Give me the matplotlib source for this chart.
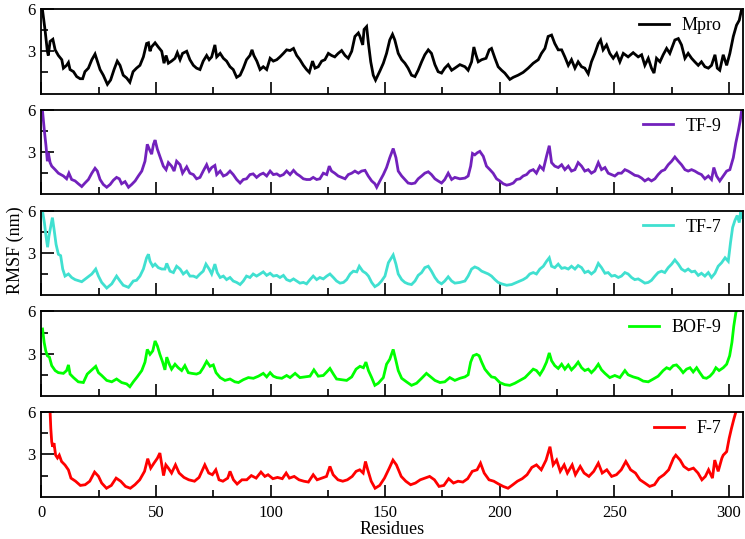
import matplotlib
matplotlib.use("Agg")
import matplotlib.pyplot as plt
from matplotlib.ticker import MultipleLocator, FixedLocator

plt.rcParams['font.family'] = ['Liberation Serif', 'DejaVu Serif']

# ---------------- data ----------------
mpro_res = [0.5,1.6,2.6,3.0,3.8,5.0,6.0,7.4,8.9,9.6,11.0,11.8,12.5,14.0,15.4,16.9,18.0,19.0,20.5,22.0,
            23.4,24.0,25.6,27.0,28.8,30.2,31.7,33.1,34.3,35.7,37.2,38.6,40.0,41.5,43.0,44.5,45.9,46.7,47.4,48.0,
            49.6,51.0,52.5,53.5,54.4,55.4,56.8,58.3,59.3,60.5,61.6,63.4,64.8,66.3,67.7,69.2,70.6,72.1,73.2,74.3,
            75.7,76.5,78.0,79.4,80.8,82.3,83.7,85.2,86.7,88.1,89.5,91.0,91.9,92.7,94.0,95.4,96.8,98.3,99.8,101.2,
            102.7,104.1,105.6,107.0,108.5,110.0,111.4,112.8,114.3,115.7,116.9,118.3,119.4,120.8,122.3,123.7,125.2,126.6,128.0,129.5,
            131.0,132.5,133.9,135.4,136.8,138.3,139.0,140.2,140.8,141.9,142.7,143.7,144.8,145.8,147.7,149.2,150.6,152.0,153.2,154.2,
            155.7,157.2,158.6,160.0,161.5,163.0,164.4,165.9,167.3,168.8,170.2,171.7,173.1,174.6,176.0,177.5,179.0,180.4,182.6,184.8,
            186.2,187.7,188.7,189.6,190.6,192.1,194.0,195.4,196.4,197.9,199.3,200.8,202.2,204.4,205.9,208.0,210.2,212.4,214.6,216.8,
            218.2,219.7,221.1,222.6,224.0,225.5,227.0,228.4,229.9,231.3,232.8,234.2,235.7,237.1,238.6,240.0,241.5,243.0,244.0,245.1,
            246.6,248.0,249.5,251.0,252.4,253.9,256.0,258.2,260.4,261.9,263.3,264.8,266.2,267.3,268.4,269.9,271.3,272.8,274.2,276.4,
            277.9,279.3,280.8,282.2,283.7,285.1,286.6,288.0,289.5,291.0,292.4,293.9,294.9,296.0,297.5,299.0,300.4,301.9,303.3,304.5,305.5]
mpro_rmsf = [5.9,4.5,3.0,2.7,3.7,3.85,3.1,2.7,2.4,1.8,2.0,2.2,1.7,1.55,1.2,1.05,1.05,1.55,1.8,2.4,
             2.8,2.5,1.7,1.3,0.65,0.96,1.7,2.3,2.0,1.3,1.1,0.8,1.55,1.8,2.0,2.6,3.55,3.6,3.0,3.3,
             3.6,3.3,3.0,2.15,2.7,2.15,2.3,2.5,2.9,2.4,2.85,3.0,2.4,2.0,1.8,1.7,2.3,2.7,2.4,2.6,
             3.45,2.6,2.85,2.5,2.3,1.9,1.7,1.15,1.3,1.8,2.4,2.7,3.1,2.7,2.3,1.7,1.9,1.7,2.5,2.3,
             2.4,2.6,2.85,3.1,3.05,3.2,2.7,2.4,2.0,1.7,1.5,2.3,1.8,1.9,2.3,2.4,2.85,2.7,2.6,2.85,
             3.05,2.7,2.5,3.0,4.05,4.3,4.05,3.45,4.55,4.75,3.55,2.25,1.3,0.95,1.6,2.15,2.85,3.8,4.2,3.8,
             2.85,2.4,2.15,1.8,1.3,1.2,1.65,2.25,2.75,3.1,2.85,2.05,1.55,1.45,1.8,2.05,1.65,1.8,2.05,1.9,
             1.65,2.25,3.3,2.75,2.25,2.4,2.5,3.1,3.2,2.5,1.9,1.65,1.45,1.0,1.15,1.3,1.5,1.8,2.15,2.4,
             2.85,3.2,4.05,4.15,3.55,3.1,3.1,2.6,2.0,2.4,1.8,2.25,1.9,1.8,1.4,2.25,2.85,3.55,3.8,3.1,
             3.45,2.85,2.5,2.85,2.25,2.85,2.6,2.9,2.6,2.75,2.0,2.5,1.8,1.45,2.5,2.25,2.75,3.2,2.85,3.8,
             3.9,3.45,2.5,2.85,2.5,2.25,2.0,2.25,1.9,1.8,2.0,2.75,1.8,1.65,2.75,2.0,2.85,4.05,4.85,5.2,5.95]

tf9_res = [0.5,1.3,2.0,2.6,3.0,3.8,4.5,6.0,7.4,9.6,11.0,12.0,13.2,14.7,16.1,17.6,19.0,20.5,22.0,23.4,
           24.4,25.6,27.0,28.5,30.0,31.4,32.8,34.0,35.0,36.5,38.0,39.4,40.9,42.3,43.8,45.2,46.2,47.1,48.1,48.9,
           49.6,50.6,51.7,53.2,54.4,55.4,56.8,57.9,59.0,60.5,61.6,63.4,64.8,66.3,67.7,69.2,70.6,72.1,73.2,74.3,
           75.7,76.5,78.0,79.4,80.8,82.3,83.7,85.2,86.7,88.1,89.5,91.0,92.4,93.9,95.4,96.8,98.3,99.8,101.2,102.7,
           104.1,105.6,107.0,108.5,110.0,111.4,112.8,114.3,115.7,117.2,118.6,120.1,121.5,123.0,124.5,125.6,126.6,128.0,129.5,131.0,
           132.5,133.9,135.4,136.8,138.3,139.7,141.2,142.6,144.1,145.5,146.3,147.7,149.2,150.6,152.0,153.5,154.7,155.7,157.2,158.6,
           160.0,161.5,163.0,164.4,165.9,167.3,168.8,170.2,171.7,173.1,174.6,176.0,177.5,179.0,180.4,182.6,184.8,186.2,187.3,188.1,
           189.1,190.2,191.3,192.8,194.2,195.7,197.1,198.6,200.0,201.5,203.0,204.4,205.9,207.3,208.8,210.2,211.7,213.1,214.6,216.0,
           217.5,219.0,220.4,221.6,222.6,224.0,225.5,227.0,228.4,229.9,231.3,232.8,234.2,235.7,237.1,238.6,240.0,241.5,243.0,244.4,
           245.9,247.3,248.8,250.2,251.7,253.1,254.6,256.0,257.5,258.9,260.4,261.9,263.3,264.8,266.2,267.7,269.1,270.6,272.0,273.5,
           275.0,276.4,277.9,279.3,280.8,282.2,283.7,285.1,286.6,288.0,289.5,291.0,292.4,293.4,294.6,296.0,297.5,299.0,300.4,301.9,
           303.0,304.1,304.9,305.5]
tf9_rmsf = [5.9,4.5,3.45,2.35,2.95,2.25,2.0,1.75,1.5,1.3,1.1,1.5,1.05,0.95,0.75,0.55,0.8,1.05,1.5,1.85,
            1.65,1.05,0.7,0.5,0.7,1.0,1.2,1.1,0.75,0.9,0.5,0.7,0.95,1.3,1.65,2.35,3.55,3.2,2.85,3.55,
            3.85,3.2,2.7,2.0,1.75,2.25,2.0,1.65,2.35,2.1,1.5,1.95,1.5,1.4,1.1,1.2,1.65,2.1,1.65,1.9,
            2.05,1.4,1.65,1.3,1.4,1.65,1.4,1.05,0.8,1.05,1.1,1.4,1.45,1.2,1.4,1.5,1.3,1.65,1.4,1.45,
            1.3,1.4,1.65,1.4,1.7,1.45,1.3,1.1,1.05,1.05,1.2,1.05,1.1,1.5,1.4,2.0,1.65,1.5,1.3,1.2,
            1.1,1.4,1.5,1.65,1.5,1.65,1.7,1.3,0.95,0.75,0.5,0.95,1.4,1.9,2.6,3.25,2.6,1.65,1.3,1.05,
            0.8,0.75,0.8,1.1,1.3,1.5,1.6,1.4,1.1,0.95,0.8,1.05,1.5,1.05,1.2,1.1,1.15,1.3,2.0,2.9,
            2.8,2.95,3.05,2.7,2.0,1.75,1.5,1.1,0.95,0.75,0.65,0.7,0.8,1.05,1.1,1.3,1.4,1.65,1.75,1.5,
            2.0,1.75,2.7,3.45,2.25,2.0,1.9,2.1,1.75,2.0,1.65,1.75,2.25,2.0,1.65,1.75,1.5,1.65,2.25,1.75,
            1.9,1.5,1.4,1.3,1.5,1.5,1.75,1.65,1.5,1.35,1.3,1.15,0.95,1.1,0.95,1.1,1.4,1.65,1.75,2.1,
            2.35,2.65,2.35,2.1,1.75,1.65,1.75,1.65,1.5,1.4,1.1,1.3,1.05,1.9,1.3,0.95,1.3,1.65,1.75,2.6,
            3.65,4.5,5.2,5.9]

tf7_res = [0.5,1.3,2.0,2.7,3.3,4.0,4.8,5.5,6.4,7.4,8.4,9.3,10.3,11.8,13.2,14.7,17.6,20.0,22.0,23.7,
           24.9,26.3,28.5,30.7,32.8,34.3,35.7,38.0,40.1,41.5,43.0,44.5,45.9,46.7,47.4,48.6,49.6,51.0,52.5,53.9,
           54.7,56.1,57.6,59.0,60.5,61.9,63.4,64.8,66.3,67.7,69.2,70.6,71.8,73.2,74.3,75.7,76.7,78.0,79.4,80.8,
           82.3,83.7,85.2,86.7,88.1,89.5,91.0,92.4,93.9,95.4,96.8,98.3,99.8,101.2,102.7,104.1,105.6,107.0,108.5,110.0,
           111.4,112.8,114.3,115.7,117.2,118.6,120.1,121.5,123.0,124.5,125.9,127.4,128.8,130.3,131.8,133.2,134.7,136.1,137.6,138.7,
           140.2,141.6,142.7,144.1,145.5,147.0,148.4,149.9,151.4,153.5,154.7,155.7,157.2,158.6,160.0,161.5,163.0,164.4,165.9,167.3,
           168.8,170.2,171.7,173.1,174.6,176.0,177.5,179.0,180.4,182.6,184.8,186.2,187.7,189.1,190.6,192.1,193.5,195.0,196.4,197.9,
           199.3,200.8,203.0,205.2,207.3,208.8,210.2,211.7,213.1,214.6,216.0,217.5,219.0,220.4,221.6,222.6,224.0,225.5,227.0,228.4,
           229.9,231.3,232.8,234.2,235.7,237.1,238.6,240.0,241.5,243.0,244.4,245.9,247.3,248.8,250.2,251.7,253.1,254.6,256.0,257.5,
           258.9,260.4,261.9,263.3,264.8,266.2,267.7,269.1,270.6,272.0,273.5,275.0,276.4,277.9,279.3,280.8,282.2,283.7,285.1,286.6,
           288.0,289.5,291.0,292.4,293.9,295.3,296.8,298.3,299.7,300.7,301.6,302.6,303.6,304.5,305.1,305.6]
tf7_rmsf = [5.95,5.15,4.2,3.4,4.2,4.8,5.5,4.7,3.6,2.9,2.8,1.85,1.35,1.5,1.25,1.1,0.95,1.25,1.5,1.85,
            1.35,0.9,0.5,0.8,1.35,1.0,0.7,0.55,1.0,1.05,1.35,1.85,2.65,2.9,2.4,2.05,2.2,1.95,1.85,1.85,
            2.25,1.7,1.6,2.05,1.85,1.5,1.7,1.35,1.35,1.25,1.5,1.7,2.2,1.85,1.5,2.2,1.6,1.25,1.35,1.1,
            1.25,1.0,0.9,0.75,1.0,1.35,1.25,1.5,1.35,1.5,1.65,1.4,1.55,1.35,1.4,1.25,1.4,1.1,1.0,1.15,
            1.0,0.85,0.9,0.8,1.1,1.35,1.1,1.25,1.15,1.35,1.5,1.25,1.0,0.85,0.9,1.1,1.5,1.7,1.65,2.05,
            1.7,1.55,1.35,0.9,0.6,0.75,1.0,1.35,2.3,2.85,2.2,1.5,1.1,0.9,0.8,0.75,1.0,1.4,1.6,1.95,
            2.05,1.7,1.25,0.95,0.8,1.0,1.3,1.0,0.85,0.9,1.0,1.35,1.85,2.0,1.9,1.7,1.6,1.5,1.35,1.1,
            0.9,0.8,0.7,0.75,0.9,1.0,1.1,1.25,1.5,1.6,1.5,1.85,2.05,2.4,2.65,2.05,1.95,2.2,1.9,1.95,
            1.85,2.05,1.85,2.1,1.95,1.6,1.7,1.5,1.7,2.25,1.95,1.55,1.6,1.35,1.4,1.25,1.35,1.6,1.5,1.25,
            1.1,1.15,1.0,0.85,0.9,1.05,1.35,1.6,1.7,1.6,1.95,2.2,2.5,2.2,1.85,1.7,1.85,1.65,1.7,1.4,
            1.55,1.35,1.6,1.25,1.55,2.05,2.3,2.65,2.4,3.75,4.8,5.3,5.65,5.15,5.9,5.5]

bof9_res = [0.5,1.2,1.9,2.6,3.5,4.5,6.0,7.4,9.6,11.0,11.8,12.5,14.0,16.1,18.3,20.0,22.0,23.7,24.9,26.3,
            28.5,30.7,32.8,35.0,37.2,38.6,40.1,41.8,43.8,45.2,46.2,47.4,48.6,49.6,50.6,51.7,52.9,53.9,54.7,55.8,
            56.8,58.3,59.7,61.2,62.6,64.1,65.6,67.7,69.2,70.6,72.1,73.6,75.0,76.2,78.0,80.1,82.3,84.4,86.0,88.1,
            90.3,92.5,94.7,96.8,98.3,99.8,101.2,102.7,104.9,107.0,108.5,110.7,112.8,115.0,117.2,118.9,120.8,123.0,124.5,125.9,
            127.4,128.8,131.0,133.2,135.4,137.3,139.0,140.5,141.6,142.7,144.1,145.5,147.0,149.2,150.6,152.0,153.5,154.7,155.7,157.2,
            159.3,161.5,163.7,165.9,168.0,169.5,171.7,173.9,176.0,178.2,180.4,182.6,184.8,186.2,187.3,188.4,189.9,191.0,192.1,193.5,
            195.0,196.4,197.9,200.0,202.2,204.4,206.6,208.8,211.0,213.1,214.6,216.0,217.5,219.0,220.4,221.6,222.6,224.0,225.5,227.0,
            228.4,229.9,231.3,232.8,234.2,235.7,237.1,238.6,240.0,241.5,243.0,244.4,245.9,248.0,250.2,252.4,254.6,256.0,258.2,260.4,
            262.6,264.8,267.0,269.1,271.3,272.8,274.2,275.7,277.1,278.6,280.0,281.5,283.0,284.4,285.9,287.3,288.8,290.2,291.7,293.1,
            294.3,295.7,297.5,299.0,300.3,301.3,302.1,303.0,303.6,304.5]
bof9_rmsf = [4.75,3.8,3.2,2.85,2.75,2.15,1.8,1.65,1.6,1.8,2.2,1.55,1.3,1.0,0.95,1.55,1.85,2.1,1.65,1.45,
             1.1,1.0,1.2,0.95,0.85,0.65,1.0,1.35,1.8,2.4,3.3,2.95,3.2,3.9,3.55,2.95,2.4,1.85,2.75,2.25,
             1.9,2.25,2.0,1.8,2.15,1.65,1.6,1.55,1.65,2.0,2.45,2.1,2.2,1.65,1.3,1.1,1.2,1.0,0.95,1.15,
             1.3,1.25,1.4,1.6,1.35,1.65,1.4,1.3,1.25,1.45,1.3,1.6,1.3,1.35,1.4,1.85,1.4,1.45,1.7,1.95,
             1.55,1.2,1.15,1.1,1.35,1.9,2.1,2.0,2.4,1.8,1.3,0.75,0.9,1.3,2.25,2.6,3.3,2.5,1.8,1.25,
             1.0,0.75,0.9,1.25,1.6,1.4,1.1,0.95,1.0,1.3,1.1,1.25,1.35,1.5,2.4,2.85,2.95,2.85,2.4,1.9,
             1.6,1.35,1.3,0.95,0.8,0.75,0.9,1.1,1.3,1.65,1.9,1.8,1.5,1.9,2.4,3.05,2.5,2.15,1.95,2.25,
             1.9,2.2,1.85,2.1,2.4,2.0,1.8,1.9,1.65,1.9,2.25,1.85,1.6,1.3,1.45,1.3,1.8,1.5,1.35,1.25,
             1.05,1.0,1.2,1.4,1.8,2.0,1.9,2.15,2.2,1.95,1.65,1.9,2.0,1.7,2.0,1.65,1.3,1.25,1.4,1.65,
             2.0,1.8,2.0,2.25,2.85,3.8,4.95,5.9,6.2,6.6]

f7_res = [3.8,4.1,4.5,4.9,5.5,6.2,7.0,7.8,8.8,10.3,11.8,12.9,14.9,17.0,19.1,21.1,23.2,24.9,26.3,28.4,
          30.5,32.6,34.6,36.7,38.8,40.8,42.9,45.0,46.4,47.7,49.1,50.6,51.7,53.3,54.3,55.4,56.8,58.5,60.1,62.2,
          64.3,66.8,68.8,71.3,73.0,74.6,76.1,77.5,79.2,81.3,82.3,83.8,85.4,87.5,89.6,91.6,93.7,95.8,97.5,98.9,
          101.0,103.0,105.1,106.8,108.2,110.3,112.4,114.5,116.5,118.6,120.3,122.3,124.4,125.9,127.3,129.4,131.5,133.5,135.6,137.3,
          138.9,140.4,141.4,142.4,143.9,145.6,147.6,149.7,151.8,153.4,154.9,157.0,159.0,161.1,163.2,165.3,167.3,169.4,171.5,173.5,
          175.6,177.7,179.8,181.8,183.9,186.0,188.0,190.1,191.6,193.2,195.3,197.4,199.5,201.5,203.6,205.7,207.7,209.8,211.9,214.0,
          216.0,218.1,220.2,221.9,223.3,224.8,226.4,228.1,229.5,231.6,233.0,235.1,236.8,238.9,241.0,243.0,244.7,246.7,248.8,250.9,
          253.0,255.0,257.1,259.2,261.2,263.3,265.4,267.5,269.5,271.6,273.7,275.8,276.8,278.7,280.3,282.4,284.5,286.5,288.2,289.7,
          291.1,292.8,293.8,295.3,296.9,297.5,299.0,300.1,301.1,302.2,303.0,304.0]
f7_rmsf = [6.0,4.85,3.9,3.55,3.8,2.95,2.75,2.95,2.5,2.25,1.9,1.32,1.1,0.8,0.85,1.1,1.75,1.45,0.97,0.6,
           0.8,1.32,1.1,0.73,0.6,0.85,1.2,1.8,2.7,2.03,2.38,2.73,3.1,1.5,2.26,2.03,1.68,2.26,1.68,1.37,
           1.2,1.1,1.37,2.26,1.68,1.56,1.91,1.2,1.1,1.32,1.8,1.2,0.9,1.2,1.2,1.5,1.32,1.75,1.44,1.56,
           1.28,1.37,1.28,1.68,1.32,1.44,1.2,1.1,1.04,1.56,1.2,1.32,1.44,2.15,1.56,1.2,1.1,1.2,1.44,1.8,
           1.91,1.68,2.5,1.91,1.1,0.6,0.8,1.32,2.03,2.6,2.26,1.44,1.1,0.85,0.97,1.2,1.32,1.44,1.2,0.73,
           0.8,1.28,0.97,1.1,1.04,1.28,1.8,1.91,2.38,1.68,1.2,1.1,0.9,0.73,0.6,0.85,1.1,1.28,1.56,2.08,
           2.26,1.91,2.6,3.55,2.26,2.6,1.8,2.26,1.68,2.26,1.56,2.15,1.68,1.44,1.8,2.38,1.68,1.91,1.44,1.56,
           1.91,2.5,1.91,1.68,1.2,0.97,0.73,0.85,1.32,1.56,1.91,2.73,2.95,2.6,2.15,1.91,2.03,1.68,1.2,1.44,
           1.91,1.32,2.6,1.8,2.73,2.95,3.2,4.15,4.85,5.55,6.0,6.6]

series_names = ['Mpro', 'TF-9', 'TF-7', 'BOF-9', 'F-7']
series_res = [mpro_res, tf9_res, tf7_res, bof9_res, f7_res]
series_rmsf = [mpro_rmsf, tf9_rmsf, tf7_rmsf, bof9_rmsf, f7_rmsf]
series_colors = ['#000000', '#7221BC', '#40E0D0', '#00FF00', '#FF0000']

x_ticks = [0, 50, 100, 150, 200, 250, 300]
y_ticks = [3, 6]

# ---------------- figure ----------------
W, H = 745, 539
fig = plt.figure(figsize=(W / 100, H / 100), dpi=100)

left_px, right_px = 41.4, 742.7
top0_px, pan_h_px, step_px = 9.0, 84.5, 100.8

axes = []
for i, (name, xr, yv, col) in enumerate(zip(series_names, series_res, series_rmsf, series_colors)):
    top = top0_px + i * step_px
    ax = fig.add_axes([left_px / W, 1 - (top + pan_h_px) / H,
                       (right_px - left_px) / W, pan_h_px / H])
    ax.plot(xr, yv, color=col, lw=2.0, label=name, solid_joinstyle='miter')
    ax.set_xlim(0, 306)
    ax.set_ylim(0, 6)
    ax.xaxis.set_major_locator(FixedLocator(x_ticks))
    ax.xaxis.set_minor_locator(MultipleLocator(25))
    ax.yaxis.set_major_locator(FixedLocator(y_ticks))
    ax.yaxis.set_minor_locator(FixedLocator([1.5, 4.5]))
    ax.tick_params(which='both', direction='in', top=False, right=False, width=1.2)
    ax.tick_params(which='major', length=9)
    ax.tick_params(which='minor', length=5)
    ax.tick_params(axis='y', labelsize=12, pad=4)
    ax.tick_params(axis='x', labelsize=12, pad=6)
    for sp in ax.spines.values():
        sp.set_linewidth(1.3)
    if i < 4:
        ax.tick_params(axis='x', labelbottom=False)
    ax.legend(loc='center right', bbox_to_anchor=(0.970, 1 - 16.5 / pan_h_px),
              frameon=False, fontsize=13, handlelength=1.65, handletextpad=0.72,
              borderaxespad=0.0, borderpad=0.0)
    axes.append(ax)

axes[-1].set_xlabel('Residues', fontsize=13, labelpad=0)
fig.text(15 / W, 1 - 250 / H, 'RMSF (nm)', rotation=90, fontsize=13,
         ha='center', va='center')

fig.savefig('out.png', dpi=100)
